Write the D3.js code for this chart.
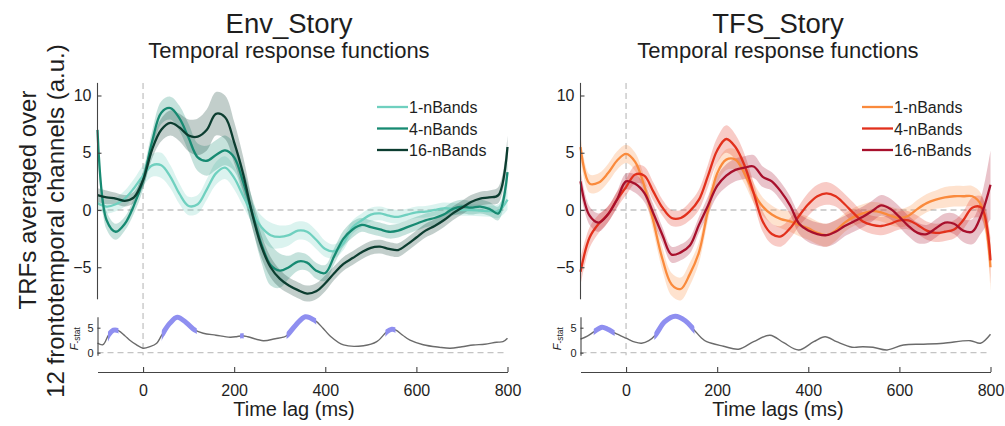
<!DOCTYPE html>
<html><head><meta charset="utf-8">
<script src="https://cdn.jsdelivr.net/npm/d3@7"></script>
<style>
body{margin:0;background:#fff}
svg{display:block}
text{font-family:"Liberation Sans",Arial,Helvetica,sans-serif;fill:#1e1e1e}
</style>
</head><body>
<svg id="chart" width="1005" height="426"></svg>
<script>
// ---------- data ----------
const lagTimes = [-100,-80,-60,-40,-20,0,20,40,60,80,100,120,140,160,180,200,220,240,260,280,300,320,340,360,380,400,420,440,460,480,500,520,540,560,580,600,620,640,660,680,700,720,740,760,780,800];
const bandLabels = ["1-nBands","4-nBands","16-nBands"];

const env1 = [0.6,0.3,0.5,1.0,1.9,3.0,3.9,3.9,2.9,1.4,0.35,0.5,1.8,3.2,3.7,2.8,1.2,-0.3,-1.5,-2.2,-2.35,-2.2,-1.8,-1.9,-2.6,-3.4,-3.6,-2.9,-1.5,-0.9,-0.4,-0.3,-0.5,-0.6,-0.4,-0.2,-0.15,0.0,0.15,0.1,0.0,0.0,-0.05,-0.1,-0.1,0.9];
const env4 = [7.0,-0.9,-1.9,-1.2,0.4,2.6,6.0,8.5,8.9,8.0,6.3,4.6,4.3,4.8,5.2,4.6,2.4,-0.3,-3.0,-4.8,-5.3,-5.0,-4.5,-4.6,-5.3,-5.5,-4.0,-2.5,-1.7,-1.3,-1.5,-1.7,-1.9,-1.8,-1.5,-1.2,-0.9,-0.7,-0.4,0.1,0.3,0.2,0.3,0.1,-0.3,3.3];
const env16 = [1.3,1.1,1.0,0.8,1.1,2.6,5.3,7.0,7.6,7.2,6.5,6.4,7.0,8.4,8.1,5.9,3.1,-0.4,-3.2,-5.0,-6.0,-6.6,-7.0,-7.3,-7.1,-6.4,-5.5,-4.7,-4.2,-3.7,-3.3,-3.2,-3.4,-3.5,-3.0,-2.4,-1.8,-1.4,-0.9,-0.3,0.2,0.7,1.0,1.1,1.3,5.5];
const env1Err = [0.6,0.6,0.6,0.7,0.8,0.9,1.0,1.1,1.0,0.9,0.8,0.8,0.9,1.0,1.0,1.0,0.9,0.9,1.0,1.1,1.0,0.9,0.8,0.8,0.8,0.7,0.6,0.6,0.6,0.6,0.6,0.6,0.6,0.6,0.5,0.5,0.5,0.5,0.5,0.5,0.5,0.5,0.5,0.5,0.6,0.9];
const env4Err = [1.0,0.8,0.7,0.6,0.7,0.8,0.9,1.0,1.0,1.1,1.2,1.2,1.3,1.3,1.3,1.2,1.2,1.3,1.6,1.8,1.5,1.0,0.8,0.7,0.7,0.7,0.7,0.7,0.7,0.6,0.6,0.6,0.6,0.6,0.6,0.6,0.6,0.6,0.6,0.6,0.6,0.6,0.6,0.6,0.6,1.2];
const env16Err = [0.6,0.6,0.5,0.5,0.5,0.6,0.8,1.0,1.1,1.2,1.4,1.6,1.8,1.9,1.9,1.8,1.5,1.2,1.0,0.9,0.8,0.7,0.7,0.7,0.7,0.7,0.6,0.6,0.6,0.6,0.6,0.6,0.6,0.6,0.6,0.6,0.6,0.6,0.6,0.6,0.6,0.6,0.6,0.6,0.7,1.0];

const tfs1 = [5.5,2.3,2.4,3.2,4.3,4.9,4.2,2.1,-1.0,-4.3,-6.5,-6.9,-5.6,-3.7,0.0,3.2,4.4,4.4,3.2,1.5,0.3,-0.4,-0.8,-1.0,-1.3,-1.6,-2.0,-2.2,-1.8,-1.1,-0.6,-0.3,-0.1,-0.2,-0.5,-0.7,-0.5,0.1,0.6,0.9,1.1,1.2,1.2,1.2,0.4,-5.0];
const tfs4 = [-5.4,-2.4,-1.2,-0.4,0.9,2.0,3.1,3.0,1.6,0.2,-0.7,-0.7,-0.1,0.9,3.0,5.2,6.2,5.5,3.9,1.5,-1.0,-2.1,-2.3,-1.6,-0.5,0.5,1.2,1.45,1.2,0.5,-0.3,-1.0,-1.3,-1.4,-1.2,-0.9,-0.9,-1.3,-1.8,-2.0,-1.9,-1.7,-0.9,0.2,0.2,-4.4];
const tfs16 = [2.5,-0.5,-1.1,-0.4,0.9,2.5,2.3,1.5,-0.3,-2.2,-3.9,-3.7,-3.1,-1.3,0.4,2.1,3.0,3.5,3.7,3.8,2.9,2.5,1.6,0.4,-1.2,-1.8,-2.1,-2.2,-1.9,-1.4,-1.0,-0.6,-0.1,0.4,0.1,-0.6,-1.4,-2.0,-2.1,-1.6,-1.1,-1.2,-1.8,-1.9,-0.4,2.2];
const tfs1Err = [1.0,0.8,0.8,0.8,0.8,0.8,0.8,0.8,0.9,1.0,1.0,1.0,1.0,0.9,0.9,0.9,0.9,0.9,0.9,0.9,0.8,0.8,0.8,0.9,1.0,1.0,1.0,1.0,0.9,0.8,0.8,0.8,0.8,0.8,0.8,0.8,0.8,0.8,0.8,0.8,0.9,0.9,0.9,0.9,1.0,2.0];
const tfs4Err = [1.2,0.9,0.8,0.7,0.7,0.7,0.8,0.8,0.8,0.7,0.7,0.7,0.8,0.9,1.0,1.1,1.2,1.1,1.0,0.9,0.9,0.9,0.9,0.9,0.9,1.0,1.0,1.0,0.9,0.9,0.9,0.8,0.8,0.8,0.8,0.8,0.8,0.8,0.8,0.8,0.8,0.8,0.8,0.9,1.0,2.0];
const tfs16Err = [1.0,0.8,0.8,0.7,0.7,0.7,0.8,0.8,0.8,0.7,0.7,0.7,0.7,0.7,0.8,0.9,1.0,1.0,1.0,1.0,0.9,0.8,0.8,0.8,0.9,1.0,1.0,1.0,1.0,0.9,0.9,0.9,0.9,0.9,0.9,0.9,0.9,0.9,0.8,0.8,0.8,0.9,1.0,1.1,1.6,3.0];

// F-stat curves
const fEnvTimes = [-100,-88,-76,-65,-54,-40,-29,-15,0,15,30,41,58,75,95,114,132,160,191,205,217,230,264,290,308,315,335,356,378,395,410,440,484,513,535,546,555,570,586,615,650,674,700,725,750,776,790,800];
const fEnvValues = [1.9,1.6,3.5,4.5,4.4,3.4,2.5,1.6,0.9,1.2,1.9,3.5,5.8,7.1,6.0,4.5,3.9,3.5,3.1,3.2,3.4,3.2,2.4,2.8,3.1,3.4,5.5,7.2,6.4,4.9,3.4,1.55,1.4,2.2,4.2,4.7,4.5,3.5,2.5,1.6,1.1,0.9,1.2,1.55,1.7,2.1,2.2,2.9];
const fEnvSig = [[-77,-54],[41,118],[213,221],[315,380],[532,554]];

const fTfsTimes = [-100,-85,-70,-53,-40,-24,0,20,34,50,64,85,108,130,148,165,177,214,247,280,316,346,379,412,437,462,496,520,542,573,609,653,697,756,778,800];
const fTfsValues = [2.7,3.3,4.2,5.1,4.7,3.9,2.9,2.1,1.9,2.4,3.5,6.2,7.3,6.4,4.7,3.0,2.2,1.3,0.7,2.2,3.5,2.0,0.55,2.2,3.2,2.2,1.1,1.2,1.1,0.55,1.55,1.7,1.9,2.4,1.9,3.7];
const fTfsSig = [[-71,-25],[62,150]];

const xTicks = [0,200,400,600,800];
const yTicks = [-5,0,5,10];
const fTicks = [0,5];

const envColors = ["#6fd0bf","#178a72","#0c3d30"];
const tfsColors = ["#fa8a3c","#e2301c","#a8102c"];

// ---------- drawing ----------
const svg = d3.select("#chart");
let clipId = 0;

function drawPanel(cfg){
  const x = d3.scaleLinear().domain([-100,800]).range([cfg.left, cfg.left+410]);
  const y = d3.scaleLinear().domain([-7.8,11.1]).range([299.3,82.9]);
  const yF = d3.scaleLinear().domain([-0.5,7.2]).range([355.2,316.7]);
  const g = svg.append("g");

  const dash = {stroke:"#c4c4c4","stroke-width":1.3,"stroke-dasharray":"6,4",fill:"none"};
  const addLine=(x1,y1,x2,y2)=>{const l=g.append("line").attr("x1",x1).attr("y1",y1).attr("x2",x2).attr("y2",y2);Object.entries(dash).forEach(([k,v])=>l.attr(k,v));};
  addLine(x(-100),y(0),x(800),y(0));
  addLine(x(0),y(11.1),x(0),yF(-0.5));
  addLine(x(-100),yF(0),x(800),yF(0));

  cfg.series.forEach((s,i)=>{
    const area = d3.area().curve(d3.curveCatmullRom.alpha(0.5))
      .x((d,j)=>x(lagTimes[j])).y0((d,j)=>y(d-cfg.errs[i][j])).y1((d,j)=>y(d+cfg.errs[i][j]));
    g.append("path").attr("d",area(s)).attr("fill",cfg.colors[i]).attr("fill-opacity",0.25);
  });
  cfg.series.forEach((s,i)=>{
    const line = d3.line().curve(d3.curveCatmullRom.alpha(0.5)).x((d,j)=>x(lagTimes[j])).y(d=>y(d));
    g.append("path").attr("d",line(s)).attr("fill","none").attr("stroke",cfg.colors[i]).attr("stroke-width",2.3);
  });

  const fLine = d3.line().curve(d3.curveCatmullRom.alpha(0.5)).x((d,j)=>x(cfg.fT[j])).y(d=>yF(d));
  const fPath = fLine(cfg.fV);
  g.append("path").attr("d",fPath).attr("fill","none").attr("stroke","#6b6b6b").attr("stroke-width",1.4);
  cfg.sig.forEach(([a,b])=>{
    const id="clip"+(clipId++);
    svg.append("clipPath").attr("id",id).append("rect").attr("x",x(a)).attr("width",x(b)-x(a)).attr("y",300).attr("height",60);
    g.append("path").attr("d",fPath).attr("fill","none").attr("stroke","#8f8ff0").attr("stroke-width",5).attr("clip-path",`url(#${id})`);
  });

  const axStyle = sel=>{sel.selectAll("path,line").attr("stroke","#444").attr("stroke-width",1.1);sel.selectAll("text").attr("fill","#222").attr("font-family","'Liberation Sans',Arial,sans-serif");};
  g.append("g").attr("transform",`translate(${x(-100)},0)`)
    .call(d3.axisLeft(y).tickValues(yTicks).tickSizeInner(-4).tickSizeOuter(0).tickPadding(6))
    .call(sel=>{axStyle(sel);sel.selectAll("text").attr("font-size",16);})
    .call(sel=>sel.select(".domain").attr("d",`M0,${y(-7.8)}V${y(11.1)}`));
  g.append("g").attr("transform",`translate(${x(-100)},0)`)
    .call(d3.axisLeft(yF).tickValues(fTicks).tickSizeInner(-3).tickSizeOuter(0).tickPadding(4))
    .call(sel=>{axStyle(sel);sel.selectAll("text").attr("font-size",11);});
  g.append("g").attr("transform",`translate(0,372)`)
    .call(d3.axisBottom(x).tickValues(xTicks).tickSizeInner(-5).tickSizeOuter(0).tickPadding(13))
    .call(sel=>{axStyle(sel);sel.selectAll("text").attr("font-size",16);});

  const fl = g.append("text").attr("transform",`translate(${x(-100)-20},${yF(2.8)}) rotate(-90)`).attr("text-anchor","middle").attr("font-size",11);
  fl.append("tspan").attr("font-style","italic").text("F");
  fl.append("tspan").attr("font-size",8.5).attr("dy",2).text("-stat");

  g.append("text").attr("x",cfg.titleX).attr("y",33).attr("text-anchor","middle").attr("font-size",27.5).text(cfg.title);
  g.append("text").attr("x",cfg.titleX).attr("y",58).attr("text-anchor","middle").attr("font-size",22).text("Temporal response functions");
  g.append("text").attr("x",cfg.xlabX).attr("y",416).attr("text-anchor","middle").attr("font-size",20).text(cfg.xlabel);

  bandLabels.forEach((lab,i)=>{
    const ly = 107 + i*21.5;
    g.append("line").attr("x1",cfg.legX).attr("x2",cfg.legX+31).attr("y1",ly).attr("y2",ly).attr("stroke",cfg.colors[i]).attr("stroke-width",2.3);
    g.append("text").attr("x",cfg.legX+32).attr("y",ly+6).attr("font-size",16).text(lab);
  });
}

drawPanel({left:97.5,title:"Env_Story",titleX:289,xlabel:"Time lag (ms)",xlabX:294,
  series:[env1,env4,env16],errs:[env1Err,env4Err,env16Err],colors:envColors,
  fT:fEnvTimes,fV:fEnvValues,sig:fEnvSig,legX:377});
drawPanel({left:580.5,title:"TFS_Story",titleX:778,xlabel:"Time lags (ms)",xlabX:778,
  series:[tfs1,tfs4,tfs16],errs:[tfs1Err,tfs4Err,tfs16Err],colors:tfsColors,
  fT:fTfsTimes,fV:fTfsValues,sig:fTfsSig,legX:862});

const ylab = svg.append("g").style("font-family","Lato,'Open Sans',sans-serif");
ylab.append("text").attr("transform","translate(36,200) rotate(-90)").attr("text-anchor","middle").attr("font-size",24).text("TRFs averaged over");
ylab.append("text").attr("transform","translate(64,221) rotate(-90)").attr("text-anchor","middle").attr("font-size",24).text("12 frontotemporal channels (a.u.)");
</script>
</body></html>
